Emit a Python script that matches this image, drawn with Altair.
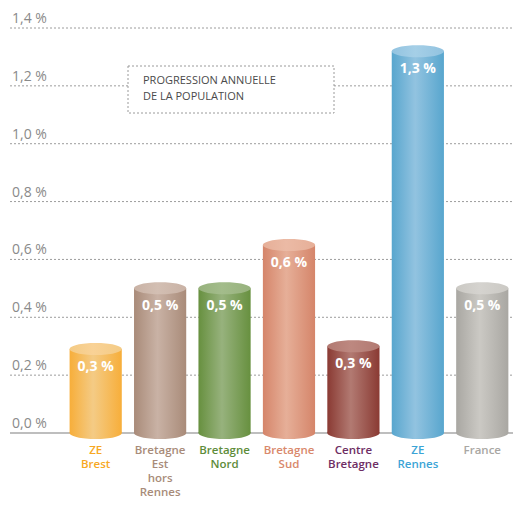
import altair as alt
import pandas as pd

# ---- data ----
categories = ["ZE Brest", "Bretagne Est hors Rennes", "Bretagne Nord", "Bretagne Sud",
              "Centre Bretagne", "ZE Rennes", "France"]
label_lines = [["ZE", "Brest"], ["Bretagne", "Est", "hors", "Rennes"], ["Bretagne", "Nord"],
               ["Bretagne", "Sud"], ["Centre", "Bretagne"], ["ZE", "Rennes"], ["France"]]
values = [0.29, 0.50, 0.50, 0.65, 0.30, 1.32, 0.50]
value_labels = ["0,3 %", "0,5 %", "0,5 %", "0,6 %", "0,3 %", "1,3 %", "0,5 %"]
tick_values = [0.0, 0.2, 0.4, 0.6, 0.8, 1.0, 1.2, 1.4]
tick_labels = ["0,0 %", "0,2 %", "0,4 %", "0,6 %", "0,8 %", "1,0 %", "1,2 %", "1,4 %"]
title_lines = ["PROGRESSION ANNUELLE", "DE LA POPULATION"]

# ---- styles ----
edge_colors = ["#F7AE3A", "#A98B79", "#67903F", "#D5856A", "#8A3A33", "#58A6CE", "#A9A7A2"]
center_colors = ["#F4CB85", "#C9B2A5", "#97B27D", "#E6AF98", "#B27A72", "#92C3E0", "#CBC9C4"]
top_colors = ["#F9D296", "#D3BFB3", "#A3BC8B", "#EBBAA5", "#BD8880", "#A5CFE7", "#D5D3CF"]
label_colors = ["#F7A823", "#A88B79", "#5E8C3A", "#D9886B", "#6E2D63", "#3BA4D6", "#A9A7A3"]

W, H = 505, 405
PAD_I, PAD_O, ALIGN = 0.19, 0.514, 0.93
step = W / (len(categories) - PAD_I + 2 * PAD_O)
bw = step * (1 - PAD_I)
ell_size = bw * bw
ellipse = "M -1 0 A 1 0.23 0 1 0 1 0 A 1 0.23 0 1 0 -1 0 Z"
FONT = "Open Sans"

df = pd.DataFrame({"cat": categories, "value": values, "vlabel": value_labels})
df["zero"] = 0.0
ticks = pd.DataFrame({"v": tick_values, "t": tick_labels})
lines_df = pd.DataFrame([{"cat": c, "k": k, "line": s}
                         for c, ls in zip(categories, label_lines) for k, s in enumerate(ls)])
title_df = pd.DataFrame({"k": list(range(len(title_lines))), "t": title_lines})

xs = alt.Scale(domain=categories, paddingInner=PAD_I, paddingOuter=PAD_O, align=ALIGN)
ys = alt.Scale(domain=[0, 1.4], nice=False, zero=True)
X = alt.X("cat:N", scale=xs, axis=None, sort=categories)
Y = alt.Y("value:Q", scale=ys, axis=None)
Y0 = alt.Y("zero:Q", scale=ys, axis=None)


def grad(e, c):
    return alt.LinearGradient(
        gradient="linear", x1=0, x2=1, y1=0, y2=0,
        stops=[alt.GradientStop(offset=0, color=e), alt.GradientStop(offset=0.45, color=c),
               alt.GradientStop(offset=1, color=e)])


base = alt.Chart(df)
tick_base = alt.Chart(ticks)

layers = []
# grid lines
layers.append(tick_base.transform_filter("datum.v > 0").mark_rule(
    color="#9c9c9c", strokeDash=[2, 2], strokeWidth=1).encode(
    y=alt.Y("v:Q", scale=ys, axis=None), x=alt.value(2), x2=alt.value(W)))
layers.append(tick_base.transform_filter("datum.v == 0").mark_rule(
    color="#a8a8a8", strokeWidth=1.3).encode(
    y=alt.Y("v:Q", scale=ys, axis=None), x=alt.value(2), x2=alt.value(W)))
# tick labels
layers.append(tick_base.mark_text(align="left", baseline="middle", dy=-9, fontSize=14,
                                  font=FONT, color="#8a8a8a").encode(
    y=alt.Y("v:Q", scale=ys, axis=None), x=alt.value(4), text="t:N"))

# cylinders
for i, c in enumerate(categories):
    sub = base.transform_filter(alt.datum.cat == c)
    g = grad(edge_colors[i], center_colors[i])
    gt = grad(center_colors[i], top_colors[i])
    layers.append(sub.mark_point(shape=ellipse, size=ell_size, filled=True, opacity=1,
                                 strokeWidth=0, fill=g).encode(x=X, y=Y0))
    layers.append(sub.mark_bar(strokeWidth=0, fill=g).encode(x=X, y=Y, y2="zero:Q"))
    layers.append(sub.mark_point(shape=ellipse, size=ell_size, filled=True, opacity=1,
                                 strokeWidth=0, fill=gt).encode(x=X, y=Y))

# value labels
layers.append(base.mark_text(color="white", fontWeight="bold", fontSize=14, font=FONT,
                             baseline="middle", dy=18).encode(x=X, y=Y, text="vlabel:N"))

# category labels, one layer per line
for k in range(4):
    layers.append(alt.Chart(lines_df).transform_filter(alt.datum.k == k).mark_text(
        baseline="middle", fontSize=11.5, fontWeight=600, font=FONT, dy=18 + 14 * k).encode(
        x=X, y=alt.value(H), text="line:N",
        color=alt.Color("cat:N", scale=alt.Scale(domain=categories, range=label_colors),
                        legend=None)))

# title box
box = pd.DataFrame({"t": ["box"]})
layers.append(alt.Chart(box).mark_rect(fill="white", stroke="#9a9a9a", strokeDash=[2, 2],
                                       strokeWidth=1).encode(
    x=alt.value(120), x2=alt.value(326), y=alt.value(38), y2=alt.value(85)))
for k in range(len(title_lines)):
    layers.append(alt.Chart(title_df).transform_filter(alt.datum.k == k).mark_text(
        align="left", baseline="middle", fontSize=11, font=FONT, color="#4a4a4a",
        dy=16 * k).encode(x=alt.value(135), y=alt.value(53), text="t:N"))

chart = alt.layer(*layers).properties(
    width=W, height=H,
    autosize=alt.AutoSizeParams(type="none"),
    padding={"left": 0, "right": 0, "top": 20, "bottom": 69},
).configure_view(stroke=None)

chart.save("out.html", embed_options={"renderer": "svg", "actions": False})
